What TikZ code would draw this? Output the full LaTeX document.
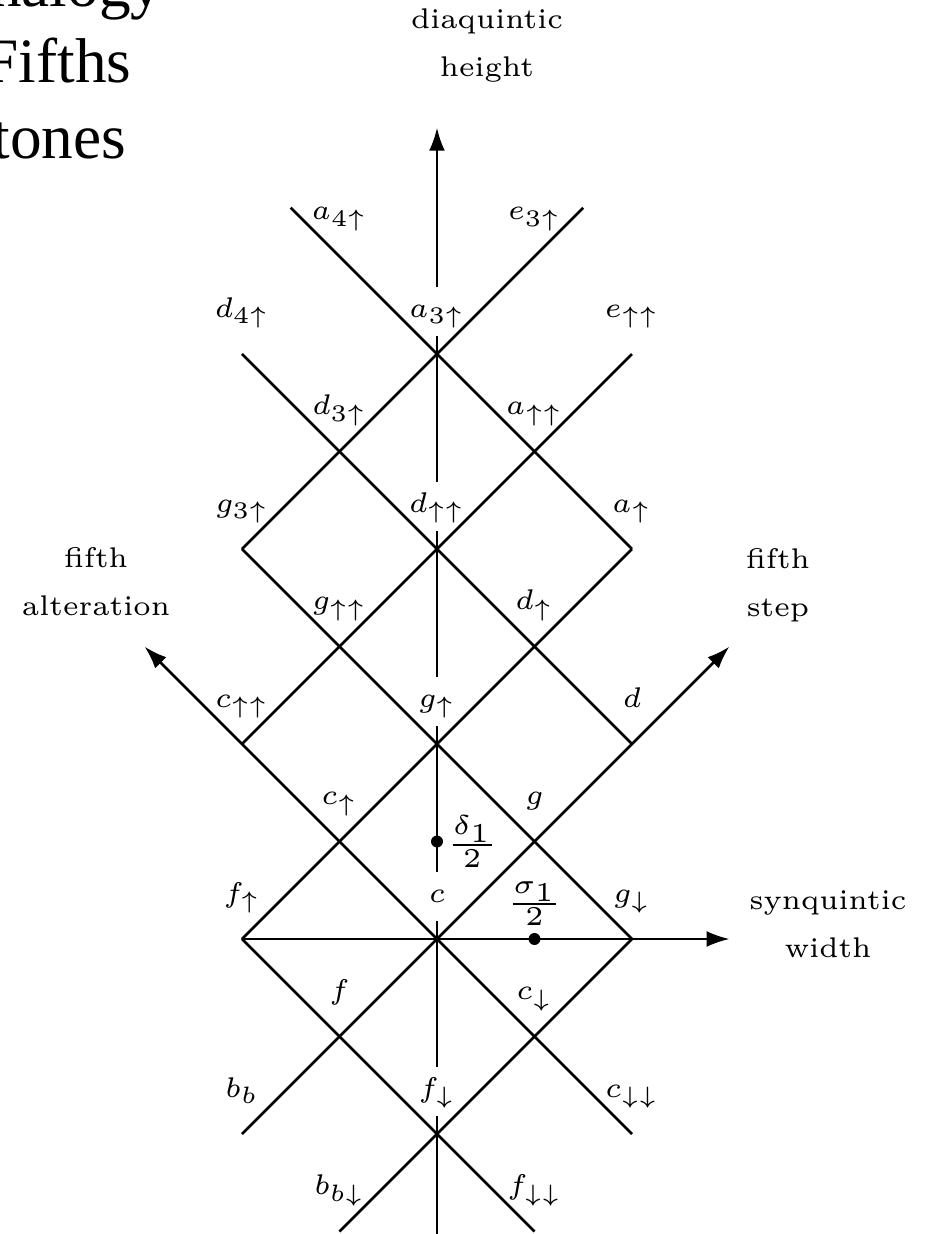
\documentclass[tikz,border=0pt]{standalone}
\usepackage{amsmath}
\usepackage{fontspec}
\usepackage{tikz}
\usetikzlibrary{arrows.meta}
\newfontfamily\titlefont{Liberation Serif}

\tikzset{
  lattice/.style={thick},
  tip/.style={-{Latex[length=6.5pt,width=4.5pt]}},
  axis/.style={semithick, tip},
  pitch/.style={anchor=base, fill=white, scale=1.35, font=\fontsize{6}{7}\selectfont,
    inner xsep=0.5pt, inner ysep=2.9pt, text height=3.5pt, text depth=1pt},
  halfstep/.style={scale=1.55, font=\fontsize{6}{7}\selectfont, inner sep=0pt},
  axislabel/.style={scale=1.35, font=\fontsize{6}{10.1}\selectfont, align=center},
  slidetitle/.style={anchor=base east, inner sep=0pt, font=\titlefont\fontsize{18}{22}\selectfont},
}

\begin{document}
\begin{tikzpicture}[x={(0.975cm,0.975cm)}, y={(-0.975cm,0.975cm)}]
    \useasboundingbox (-4.37cm,-2.95cm) rectangle (4.91cm,9.39cm);
    \clip (-4.37cm,-2.95cm) rectangle (4.91cm,9.39cm);

    % lattice points (fifth step, fifth alteration)
    \coordinate (c) at (0,0);
    \coordinate (g) at (1,0);
    \coordinate (d) at (2,0);
    \coordinate (gd) at (1,-1);
    \coordinate (fu) at (-1,1);
    \coordinate (cu) at (0,1);
    \coordinate (gu) at (1,1);
    \coordinate (du) at (2,1);
    \coordinate (au) at (3,1);
    \coordinate (cuu) at (0,2);
    \coordinate (guu) at (1,2);
    \coordinate (duu) at (2,2);
    \coordinate (auu) at (3,2);
    \coordinate (euu) at (4,2);
    \coordinate (g3u) at (1,3);
    \coordinate (d3u) at (2,3);
    \coordinate (a3u) at (3,3);
    \coordinate (e3u) at (4,3);
    \coordinate (d4u) at (2,4);
    \coordinate (a4u) at (3,4);
    \coordinate (f) at (-1,0);
    \coordinate (cd) at (0,-1);
    \coordinate (fd) at (-1,-1);
    \coordinate (bb) at (-2,0);
    \coordinate (cdd) at (0,-2);
    \coordinate (bbd) at (-2,-1);
    \coordinate (fdd) at (-1,-2);
    % free ends
    \coordinate (stepend) at (3,0);
    \coordinate (altend) at (0,3);
    \coordinate (e3end) at (4.5,3);
    \coordinate (a4end) at (3,4.5);
    \coordinate (widthend) at (1.5,-1.5);
    \coordinate (heighttop) at (4.16,4.16);
    \coordinate (heightbot) at (-1.6,-1.6);
    \coordinate (del) at (0.5,0.5);
    \coordinate (sig) at (0.5,-0.5);

    \draw[axis] (heightbot) -- (heighttop);

    % pitch names
    \node[pitch] (c-l) at ([yshift=0.37cm]c) {$c$};
    \node[pitch] (g-l) at ([yshift=0.37cm]g) {$g$};
    \node[pitch] (d-l) at ([yshift=0.37cm]d) {$d$};
    \node[pitch] (gd-l) at ([yshift=0.37cm]gd) {$g_{\downarrow}$};
    \node[pitch] (fu-l) at ([yshift=0.37cm]fu) {$f_{\uparrow}$};
    \node[pitch] (cu-l) at ([yshift=0.37cm]cu) {$c_{\uparrow}$};
    \node[pitch] (gu-l) at ([yshift=0.37cm]gu) {$g_{\uparrow}$};
    \node[pitch] (du-l) at ([yshift=0.37cm]du) {$d_{\uparrow}$};
    \node[pitch] (au-l) at ([yshift=0.37cm]au) {$a_{\uparrow}$};
    \node[pitch] (cuu-l) at ([yshift=0.37cm]cuu) {$c_{\uparrow\uparrow}$};
    \node[pitch] (guu-l) at ([yshift=0.37cm]guu) {$g_{\uparrow\uparrow}$};
    \node[pitch] (duu-l) at ([yshift=0.37cm]duu) {$d_{\uparrow\uparrow}$};
    \node[pitch] (auu-l) at ([yshift=0.37cm]auu) {$a_{\uparrow\uparrow}$};
    \node[pitch] (euu-l) at ([yshift=0.37cm]euu) {$e_{\uparrow\uparrow}$};
    \node[pitch] (g3u-l) at ([yshift=0.37cm]g3u) {$g_{3\uparrow}$};
    \node[pitch] (d3u-l) at ([yshift=0.37cm]d3u) {$d_{3\uparrow}$};
    \node[pitch] (a3u-l) at ([yshift=0.37cm]a3u) {$a_{3\uparrow}$};
    \node[pitch] (e3u-l) at ([yshift=0.37cm]e3u) {$e_{3\uparrow}$};
    \node[pitch] (d4u-l) at ([yshift=0.37cm]d4u) {$d_{4\uparrow}$};
    \node[pitch] (a4u-l) at ([yshift=0.37cm]a4u) {$a_{4\uparrow}$};
    \node[pitch] (f-l) at ([yshift=0.37cm]f) {$f$};
    \node[pitch] (cd-l) at ([yshift=0.37cm]cd) {$c_{\downarrow}$};
    \node[pitch] (fd-l) at ([yshift=0.37cm]fd) {$f_{\downarrow}$};
    \node[pitch] (bb-l) at ([yshift=0.37cm]bb) {$b_b$};
    \node[pitch] (cdd-l) at ([yshift=0.37cm]cdd) {$c_{\downarrow\downarrow}$};
    \node[pitch] (bbd-l) at ([yshift=0.37cm]bbd) {$b_{b\downarrow}$};
    \node[pitch] (fdd-l) at ([yshift=0.37cm]fdd) {$f_{\downarrow\downarrow}$};

    % lines of equal alteration
    \draw[lattice] (bbd) -- (gd);
    \draw[lattice, tip] (bb) -- (stepend);
    \draw[lattice] (fu) -- (au);
    \draw[lattice] (cuu) -- (euu);
    \draw[lattice] (g3u) -- (e3end);
    % lines of equal fifth step
    \draw[lattice] (fdd) -- (fu);
    \draw[lattice, tip] (cdd) -- (altend);
    \draw[lattice] (gd) -- (g3u);
    \draw[lattice] (d) -- (d4u);
    \draw[lattice] (au) -- (a4end);

    \draw[axis] (fu) -- (widthend);

    \fill (del) circle (1.7pt);
    \fill (sig) circle (1.7pt);
    \node[halfstep, anchor=west] (del-l) at ([xshift=0.08cm]del) {$\tfrac{\delta_1}{2}$};
    \node[halfstep, anchor=south] (sig-l) at ([yshift=0.12cm]sig) {$\tfrac{\sigma_1}{2}$};

    \node[axislabel] (height-l) at ([shift={(0.50cm,0.82cm)}]heighttop) {diaquintic\\height};
    \node[axislabel] (alt-l) at ([shift={(-0.485cm,0.645cm)}]altend) {fifth\\alteration};
    \node[axislabel] (step-l) at ([shift={(0.485cm,0.615cm)}]stepend) {fifth\\step};
    \node[axislabel] (width-l) at ([shift={(0.985cm,0.15cm)}]widthend) {synquintic\\width};

    % cut-off slide title
    \node[slidetitle] (title1) at (-2.74cm,9.33cm) {nalogy};
    \node[slidetitle] (title2) at (-3.05cm,8.57cm) {Fifths};
    \node[slidetitle] (title3) at (-3.10cm,7.81cm) {tones};
\end{tikzpicture}
\end{document}
